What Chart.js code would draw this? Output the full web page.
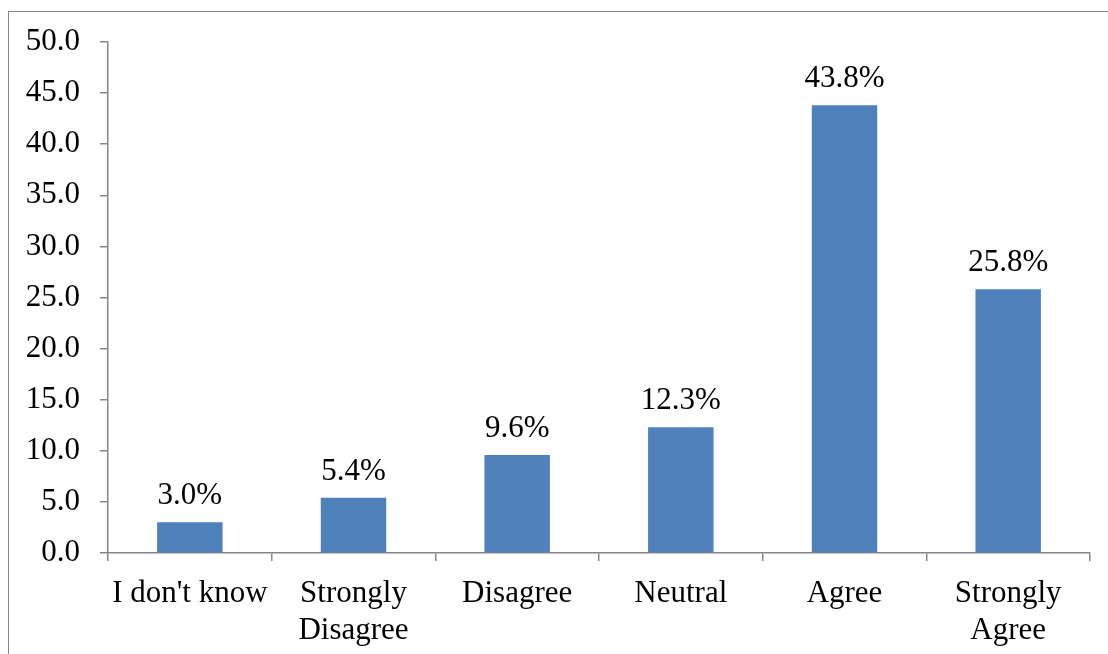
<!DOCTYPE html>
<html>
<head>
<meta charset="utf-8">
<script src="https://cdn.jsdelivr.net/npm/chart.js@4/dist/chart.umd.min.js"></script>
<style>
  html, body { margin: 0; padding: 0; background: #fff; overflow: hidden; }
  #wrap { position: relative; width: 1108px; height: 654px; }
  #frame {
    position: absolute; left: 8px; top: 11px; width: 1120px; height: 660px;
    border-left: 1px solid #868686; border-top: 1px solid #868686;
  }
  canvas { position: absolute; left: 0; top: 0; }
</style>
</head>
<body>
<div id="wrap">
  <div id="frame"></div>
  <canvas id="chart" width="1108" height="654"></canvas>
</div>
<script>
const categories = ["I don't know", ["Strongly", "Disagree"], "Disagree", "Neutral", "Agree", ["Strongly", "Agree"]];
const percents = [3.0, 5.4, 9.6, 12.3, 43.8, 25.8];

const axisGray = "#868686";
const font = { family: "'Liberation Serif', 'Times New Roman', serif", size: 31 };

// value labels above each bar
const barLabels = {
  id: "barLabels",
  afterDatasetsDraw(chart) {
    const ctx = chart.ctx;
    const meta = chart.getDatasetMeta(0);
    ctx.save();
    ctx.font = `${font.size}px ${font.family}`;
    ctx.fillStyle = "#000";
    ctx.textAlign = "center";
    ctx.textBaseline = "alphabetic";
    meta.data.forEach((bar, i) => {
      ctx.fillText(percents[i].toFixed(1) + "%", bar.x, bar.y - 18);
    });
    ctx.restore();
  }
};

new Chart(document.getElementById("chart"), {
  type: "bar",
  data: {
    labels: categories,
    datasets: [{
      data: percents,
      backgroundColor: "#4F81BD",
      barPercentage: 0.4,
      categoryPercentage: 1.0
    }]
  },
  options: {
    responsive: false,
    animation: false,
    layout: { padding: { left: 0, right: 18, top: 42, bottom: 0 } },
    plugins: { legend: { display: false }, tooltip: { enabled: false } },
    scales: {
      x: {
        offset: true,
        grid: { offset: true, drawOnChartArea: false, color: axisGray, tickLength: 8, lineWidth: 1.5 },
        border: { color: axisGray, width: 1.5 },
        ticks: { color: "#000", font: { ...font, lineHeight: 1.2 }, padding: 14, maxRotation: 0, autoSkip: false },
        afterFit(scale) { scale.height = 101; }
      },
      y: {
        min: 0,
        max: 50,
        grid: { drawOnChartArea: false, color: axisGray, tickLength: 8, lineWidth: 1.5 },
        border: { color: axisGray, width: 1.5 },
        ticks: { stepSize: 5, color: "#000", font, padding: 20, callback: v => v.toFixed(1) },
        afterFit(scale) { scale.width = 108; }
      }
    }
  },
  plugins: [barLabels]
});
</script>
</body>
</html>
